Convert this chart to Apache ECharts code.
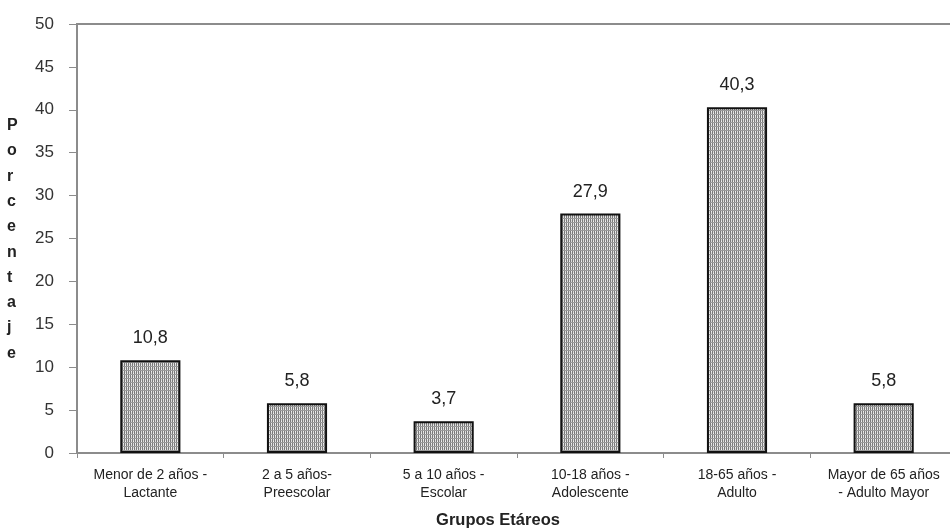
<!DOCTYPE html>
<html>
<head>
<meta charset="utf-8">
<script src="https://cdn.jsdelivr.net/npm/echarts@6/dist/echarts.min.js"></script>
<style>html,body{margin:0;padding:0;background:#fff}#c{width:950px;height:531px}</style>
</head>
<body>
<div id="c"></div>
<script>
var categories = ['Menor de 2 años -\nLactante', '2 a 5 años-\nPreescolar', '5 a 10 años -\nEscolar', '10-18 años -\nAdolescente', '18-65 años -\nAdulto', 'Mayor de 65 años\n- Adulto Mayor'];
var values = [10.8, 5.8, 3.7, 27.9, 40.3, 5.8];
var yTicks = [0, 5, 10, 15, 20, 25, 30, 35, 40, 45, 50];
var yTitle = 'Porcentaje';
var xTitle = 'Grupos Etáreos';

function makePattern() {
  var c = document.createElement('canvas');
  c.width = 4; c.height = 4;
  var ctx = c.getContext('2d');
  ctx.fillStyle = '#dcdcdc';
  ctx.fillRect(0, 0, 4, 4);
  ctx.fillStyle = '#7a7a7a';
  ctx.fillRect(0, 0, 1, 4);
  ctx.fillRect(2, 0, 1, 4);
  ctx.fillStyle = '#f2f2f2';
  ctx.fillRect(1, 1, 1, 1);
  ctx.fillRect(3, 3, 1, 1);
  ctx.fillStyle = '#9a9a9a';
  ctx.fillRect(0, 2, 4, 1);
  return c;
}

var font = 'Liberation Sans, Arial, sans-serif';
var chart = echarts.init(document.getElementById('c'), null, {renderer: 'canvas'});
chart.setOption({
  animation: false,
  grid: {left: 77, top: 24, width: 880, height: 429, outerBoundsMode: 'none', containLabel: false, show: true, borderColor: '#8c8c8c', borderWidth: 2, backgroundColor: 'transparent'},
  xAxis: {
    type: 'category',
    data: categories,
    axisLine: {lineStyle: {color: '#8c8c8c', width: 2}},
    axisTick: {show: true, alignWithLabel: false, length: 5, lineStyle: {color: '#8c8c8c', width: 1}},
    axisLabel: {color: '#222', fontSize: 14, fontFamily: font, lineHeight: 18, margin: 13, interval: 0}
  },
  yAxis: {
    type: 'value',
    min: yTicks[0],
    max: yTicks[yTicks.length - 1],
    interval: 5,
    axisLine: {show: true, lineStyle: {color: '#8c8c8c', width: 2}},
    axisTick: {show: true, length: 8, lineStyle: {color: '#8c8c8c', width: 1}},
    splitLine: {show: false},
    axisLabel: {color: '#333', fontSize: 17, fontFamily: font, margin: 23}
  },
  graphic: [{
    type: 'text',
    left: 7,
    top: 113,
    style: {
      text: yTitle.split('').join('\n'),
      fill: '#222',
      font: 'bold 16px ' + font,
      lineHeight: 25.3,
      align: 'center'
    }
  }, {
    type: 'text',
    x: 498,
    y: 520,
    style: {
      text: xTitle,
      fill: '#222',
      font: 'bold 16.5px ' + font,
      align: 'center',
      verticalAlign: 'middle'
    }
  }],
  series: [{
    type: 'bar',
    data: values,
    barWidth: '41%',
    itemStyle: {
      color: {image: makePattern(), repeat: 'repeat'},
      borderColor: '#111',
      borderWidth: 2
    },
    label: {
      show: true,
      position: 'top',
      distance: 13,
      color: '#222',
      fontSize: 18,
      fontFamily: font,
      formatter: function (p) { return String(p.value).replace('.', ','); }
    }
  }]
});
</script>
</body>
</html>
